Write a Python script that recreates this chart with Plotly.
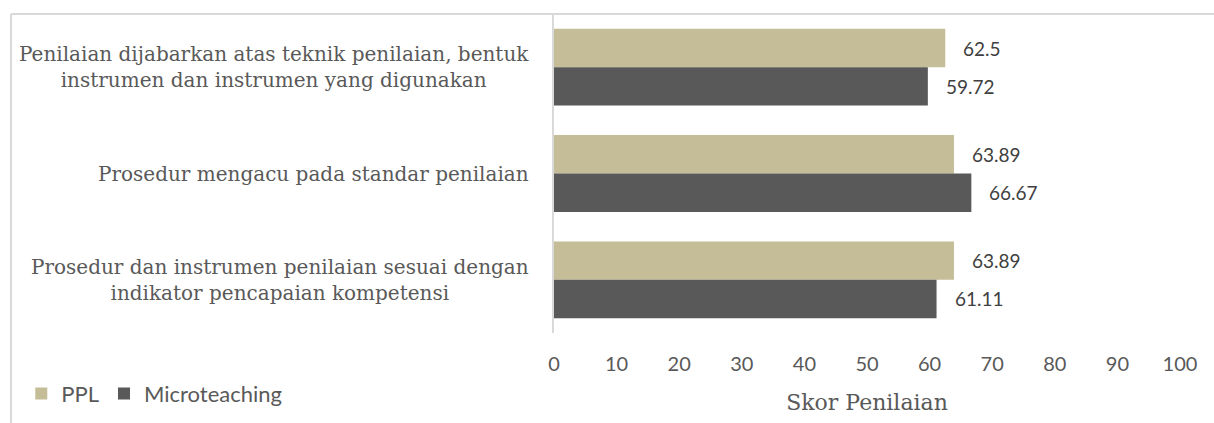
import plotly.graph_objects as go

categories = [
    "Penilaian dijabarkan atas teknik penilaian, bentuk<br>instrumen dan instrumen yang digunakan",
    "Prosedur mengacu pada standar penilaian",
    "Prosedur dan instrumen penilaian sesuai dengan<br>indikator pencapaian kompetensi",
]
ppl = [62.5, 63.89, 63.89]
micro = [59.72, 66.67, 61.11]
ppl_labels = ["62.5", "63.89", "63.89"]
micro_labels = ["59.72", "66.67", "61.11"]
x_ticks = [0, 10, 20, 30, 40, 50, 60, 70, 80, 90, 100]
x_title = "Skor Penilaian"

C_PPL = "#c4bd97"
C_MIC = "#595959"
SERIF = "DejaVu Serif"
SANS = "Lato"

fig = go.Figure()
fig.add_trace(go.Bar(y=categories, x=ppl, orientation="h", name="PPL",
                     marker=dict(color=C_PPL, line=dict(width=0)), hoverinfo="skip"))
fig.add_trace(go.Bar(y=categories, x=micro, orientation="h", name="Microteaching",
                     marker=dict(color=C_MIC, line=dict(width=0)), hoverinfo="skip"))

annotations = []
for i, c in enumerate(categories):
    for val, lab, off in ((ppl[i], ppl_labels[i], -0.18), (micro[i], micro_labels[i], 0.18)):
        annotations.append(dict(x=val, y=i + off, xref="x", yref="y", text=lab,
                                showarrow=False, xanchor="left", yanchor="middle", xshift=16,
                                font=dict(family=SANS, size=19, color="#404040")))
    annotations.append(dict(x=0, y=i, xref="paper", yref="y", text=c, showarrow=False,
                            xanchor="right", yanchor="middle", align="center", xshift=-23,
                            font=dict(family=SERIF, size=20, color="#595959")))

fig.update_layout(
    width=1214, height=423,
    margin=dict(l=554, r=34, t=14, b=90, autoexpand=False),
    paper_bgcolor="white", plot_bgcolor="white",
    barmode="group", bargap=0.277, bargroupgap=0,
    showlegend=True,
    legend=dict(orientation="h", x=-0.851, y=-0.19, xanchor="left", yanchor="middle",
                font=dict(family=SANS, size=22, color="#595959"), traceorder="normal"),
    xaxis=dict(range=[0, 100], tickvals=x_ticks, ticktext=[str(t) for t in x_ticks],
               showgrid=False, zeroline=False, showline=False, ticks="",
               automargin=False,
               ticklabelstandoff=17,
               tickfont=dict(family=SANS, size=20, color="#595959"),
               title=dict(text=x_title, standoff=20, font=dict(family=SERIF, size=22, color="#595959"))),
    yaxis=dict(type="category", categoryarray=categories, range=[2.5, -0.5],
               showticklabels=False, showgrid=False, zeroline=False, automargin=False,
               showline=True, linecolor="#d9d9d9", linewidth=1.5, ticks=""),
    annotations=annotations,
    shapes=[
        dict(type="line", xref="paper", yref="paper", x0=(11 - 554) / 626, x1=(1214 - 554) / 626,
             y0=1, y1=1, line=dict(color="#d9d9d9", width=2)),
        dict(type="line", xref="paper", yref="paper", x0=(11 - 554) / 626, x1=(11 - 554) / 626,
             y0=1, y1=(333 - 423) / 319, line=dict(color="#d9d9d9", width=2)),
    ],
)

fig.write_html("out.html", config={"displayModeBar": False},
               post_script="document.body.style.margin='0px';document.body.style.padding='0px';")
